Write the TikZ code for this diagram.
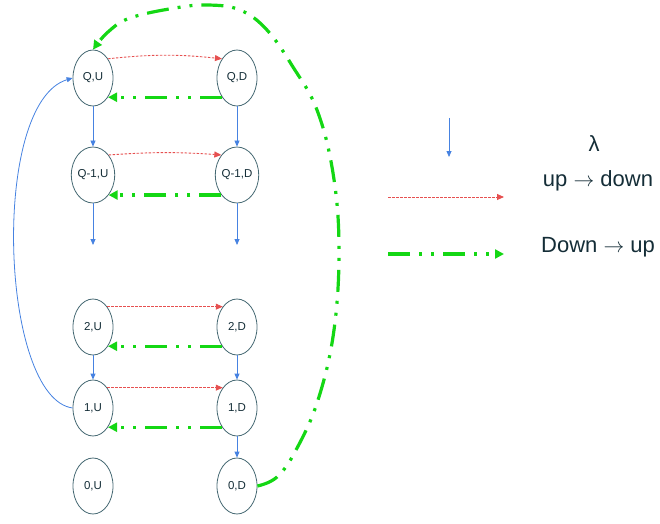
\documentclass[tikz,border=0pt]{standalone}
\usepackage{fontspec}
\setmainfont{Liberation Sans}
\usetikzlibrary{arrows.meta,shapes.geometric}
\definecolor{edgec}{RGB}{70,105,115}
\definecolor{txtc}{RGB}{20,45,55}
\definecolor{bluec}{RGB}{70,130,225}
\definecolor{redc}{RGB}{230,80,80}
\definecolor{greenc}{RGB}{20,215,20}
\tikzset{
  state/.style={ellipse,draw=edgec,line width=0.8pt,minimum width=40pt,minimum height=56pt,inner sep=0pt,text=txtc,font=\fontsize{11.5}{13}\selectfont},
  lam/.style={draw=bluec,line width=0.8pt,-{Triangle[length=6pt,width=5pt]}},
  updown/.style={draw=redc,line width=0.9pt,dash pattern=on 2.5pt off 1.5pt,-{Triangle[length=7pt,width=6pt]}},
  downup/.style={draw=greenc,line width=3.2pt,dash pattern=on 22pt off 9pt on 3pt off 9pt on 3pt off 9pt,-{Triangle[length=9pt,width=9pt]}},
  legtext/.style={text=txtc,font=\fontsize{22}{26}\selectfont}
}
\begin{document}
\begin{tikzpicture}[x=1pt,y=1pt]
\useasboundingbox (0,0) rectangle (660,523);
% states
\node[state] (QU) at (93,445) {Q,U};
\node[state] (QD) at (237,445) {Q,D};
\node[state] (Q1U) at (93,348) {Q-1,U};
\node[state] (Q1D) at (237,348) {Q-1,D};
\node[state] (2U) at (93,196) {2,U};
\node[state] (2D) at (237,196) {2,D};
\node[state] (1U) at (93,115) {1,U};
\node[state] (1D) at (237,115) {1,D};
\node[state] (0U) at (93,37) {0,U};
\node[state] (0D) at (237,37) {0,D};
\coordinate (qa) at (93,278);
\coordinate (qb) at (237,278);
% lambda arrows
\draw[lam] (QU) -- (Q1U);
\draw[lam] (Q1U) -- (qa);
\draw[lam] (2U) -- (1U);
\draw[lam] (QD) -- (Q1D);
\draw[lam] (Q1D) -- (qb);
\draw[lam] (2D) -- (1D);
\draw[lam] (1D) -- (0D);
\draw[lam] (1U.west) .. controls (0,125) and (-10,420) .. (QU.west);
% up -> down
\draw[updown] (QU.52) to[bend left=6] (QD.128);
\draw[updown] (Q1U.52) to[bend left=4] (Q1D.128);
\draw[updown] (2U.55) -- (2D.125);
\draw[updown] (1U.55) -- (1D.125);
% down -> up
\draw[downup] (QD.232) -- (QU.-52);
\draw[downup] (Q1D.232) -- (Q1U.-52);
\draw[downup] (2D.232) -- (2U.-52);
\draw[downup] (1D.232) -- (1U.-52);
\draw[downup] plot[smooth,tension=0.65] coordinates {(0D.east) (277,46) (296,73) (318,123) (334,193) (339,276) (333,350) (317,413) (293,456) (267,493) (240,513) (208,518) (175,515) (130,505) (108,491) (QU.north)};
% legend
\coordinate (l1a) at (449,405);
\coordinate (l1b) at (449,366);
\draw[lam] (l1a) -- (l1b);
\coordinate (l2a) at (388,326);
\coordinate (l2b) at (504,326);
\draw[updown] (l2a) -- (l2b);
\coordinate (l3a) at (388,269);
\coordinate (l3b) at (504,269);
\draw[downup] (l3a) -- (l3b);
\node[legtext] (tl) at (594,379) {λ};
\node[legtext] (tud) at (598,342) {up $\rightarrow$ down};
\node[legtext] (tdu) at (598,276) {Down $\rightarrow$ up};
\end{tikzpicture}
\end{document}
